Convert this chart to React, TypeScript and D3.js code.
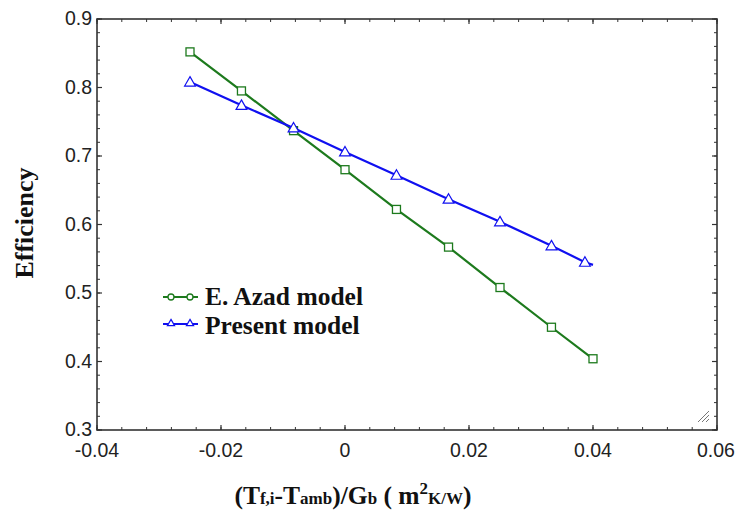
import React from "react";
import * as d3 from "d3";

const xValues = [-0.025, -0.0167, -0.0083, 0, 0.0083, 0.0167, 0.025, 0.0333, 0.04];
const azadValues = [0.852, 0.795, 0.737, 0.68, 0.622, 0.567, 0.508, 0.45, 0.404];
const presentX = [-0.025, -0.0167, -0.0083, 0, 0.0083, 0.0167, 0.025, 0.0333, 0.0387];
const presentValues = [0.808, 0.774, 0.741, 0.706, 0.672, 0.637, 0.604, 0.569, 0.545];
const presentLineEnd = { x: 0.04, y: 0.541 };
const xTickLabels = ["-0.04", "-0.02", "0", "0.02", "0.04", "0.06"];
const yTickLabels = ["0.3", "0.4", "0.5", "0.6", "0.7", "0.8", "0.9"];
const seriesNames = ["E. Azad model", "Present model"];

const W = 735;
const H = 512;
const L = 97, R = 717, T = 19, B = 430;

export default function App() {
  const x = d3.scaleLinear().domain([-0.04, 0.06]).range([L, R]);
  const y = d3.scaleLinear().domain([0.3, 0.9]).range([B, T]);
  const xMajor = xTickLabels.map(Number);
  const yMajor = yTickLabels.map(Number);
  const xMinor = d3.range(0, 26).map((i) => -0.04 + i * 0.004);
  const yMinor = d3.range(0, 31).map((i) => 0.3 + i * 0.02);

  const line = d3.line<[number, number]>().x((d) => x(d[0])).y((d) => y(d[1]));
  const azadPts: [number, number][] = xValues.map((v, i) => [v, azadValues[i]]);
  const presPts: [number, number][] = presentX.map((v, i) => [v, presentValues[i]]);
  const presLine = [...presPts, [presentLineEnd.x, presentLineEnd.y] as [number, number]];

  const green = "#1d7a1d";
  const blue = "#1010f0";
  const axisColor = "#333";
  const sq = 8;
  const serif = "Liberation Serif, Times New Roman, serif";
  const sans = "Liberation Sans, Arial, sans-serif";
  const tri = (cx: number, cy: number, s: number) =>
    `M${cx},${cy - s * 0.6}L${cx + s * 0.6},${cy + s * 0.45}L${cx - s * 0.6},${cy + s * 0.45}Z`;

  return (
    <svg width={W} height={H} style={{ position: "absolute", left: 0, top: 0, background: "#fff" }}>
      {xMinor.map((v, i) => (
        <g key={"xm" + i}>
          <line x1={x(v)} x2={x(v)} y1={B} y2={B - 3} stroke={axisColor} strokeWidth={1} />
          <line x1={x(v)} x2={x(v)} y1={T} y2={T + 3} stroke={axisColor} strokeWidth={1} />
        </g>
      ))}
      {yMinor.map((v, i) => (
        <g key={"ym" + i}>
          <line x1={L} x2={L + 3} y1={y(v)} y2={y(v)} stroke={axisColor} strokeWidth={1} />
          <line x1={R} x2={R - 3} y1={y(v)} y2={y(v)} stroke={axisColor} strokeWidth={1} />
        </g>
      ))}
      {xMajor.map((v, i) => (
        <g key={"xM" + i}>
          <line x1={x(v)} x2={x(v)} y1={B} y2={B - 5} stroke={axisColor} strokeWidth={1.2} />
          <line x1={x(v)} x2={x(v)} y1={T} y2={T + 5} stroke={axisColor} strokeWidth={1.2} />
          <text x={i === xMajor.length - 1 ? x(v) - 1 : x(v)} y={457} textAnchor="middle" fontFamily={sans} fontSize={19.5} fill="#222">
            {xTickLabels[i]}
          </text>
        </g>
      ))}
      {yMajor.map((v, i) => (
        <g key={"yM" + i}>
          <line x1={L} x2={L + 5} y1={y(v)} y2={y(v)} stroke={axisColor} strokeWidth={1.2} />
          <line x1={R} x2={R - 5} y1={y(v)} y2={y(v)} stroke={axisColor} strokeWidth={1.2} />
          <text x={92} y={y(v) + 6} textAnchor="end" fontFamily={sans} fontSize={19.5} fill="#222">
            {yTickLabels[i]}
          </text>
        </g>
      ))}
      <rect x={L} y={T} width={R - L} height={B - T} fill="none" stroke={axisColor} strokeWidth={1.6} />

      <path d={line(azadPts) || ""} fill="none" stroke={green} strokeWidth={2.2} />
      {azadPts.map((d, i) => (
        <rect key={"a" + i} x={x(d[0]) - sq / 2} y={y(d[1]) - sq / 2} width={sq} height={sq} fill="#fff" stroke={green} strokeWidth={1.3} />
      ))}
      <path d={line(presLine) || ""} fill="none" stroke={blue} strokeWidth={2.2} />
      {presPts.map((d, i) => (
        <path key={"p" + i} d={tri(x(d[0]), y(d[1]), 9)} fill="#fff" stroke={blue} strokeWidth={1.2} />
      ))}

      <line x1={163} x2={198} y1={297} y2={297} stroke={green} strokeWidth={1.8} />
      <circle cx={171} cy={297} r={3} fill="#fff" stroke={green} strokeWidth={1.3} />
      <circle cx={190} cy={297} r={3} fill="#fff" stroke={green} strokeWidth={1.3} />
      <text x={205} y={305} fontFamily={serif} fontWeight="bold" fontSize={25.5} fill="#111">
        {seriesNames[0]}
      </text>
      <line x1={163} x2={198} y1={324} y2={324} stroke={blue} strokeWidth={1.8} />
      <path d={tri(171, 323, 6)} fill="#fff" stroke={blue} strokeWidth={1.2} />
      <path d={tri(190, 323, 6)} fill="#fff" stroke={blue} strokeWidth={1.2} />
      <text x={205} y={334} fontFamily={serif} fontWeight="bold" fontSize={25.5} fill="#111">
        {seriesNames[1]}
      </text>

      <text transform="translate(33,223) rotate(-90)" textAnchor="middle" fontFamily={serif} fontWeight="bold" fontSize={26} fill="#111">
        Efficiency
      </text>
      <text x={353} y={504} textAnchor="middle" fontFamily={serif} fontWeight="bold" fontSize={25.5} fill="#111">
        <tspan>(T</tspan>
        <tspan fontSize={17}>f,i</tspan>
        <tspan>-T</tspan>
        <tspan fontSize={17}>amb</tspan>
        <tspan>)/G</tspan>
        <tspan fontSize={17}>b</tspan>
        <tspan> ( m</tspan>
        <tspan fontSize={17} dy={-10}>2</tspan>
        <tspan fontSize={17} dy={10}>K/W</tspan>
        <tspan>)</tspan>
      </text>

      {[0, 4, 8].map((o, i) => (
        <line key={"g" + i} x1={698 + o} y1={422} x2={709} y2={411 + o} stroke="#777" strokeWidth={1} />
      ))}
    </svg>
  );
}
